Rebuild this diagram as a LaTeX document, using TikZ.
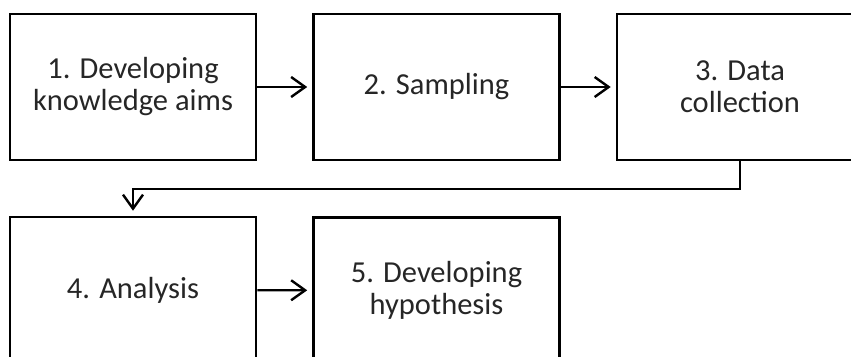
\documentclass[tikz,border=0pt]{standalone}
\usepackage{fontspec}
\setmainfont{Carlito}
\usetikzlibrary{arrows.meta}
\begin{document}
\begin{tikzpicture}[x=1pt,y=-1pt,
  stage/.style={draw=black, line width=2.6pt, minimum width=246pt, minimum height=146pt,
    inner sep=0pt, align=center, text=black!85, font=\fontsize{30.5}{32}\selectfont},
  flow/.style={line width=2.4pt, shorten >=5pt, -{Straight Barb[length=14pt,width=20pt,line width=2.4pt]}}]
\useasboundingbox (0,0) rectangle (851,356);
\clip (0,0) rectangle (851,356);
\node[stage] (s1) at (133,87) {1. Developing\\knowledge aims};
\node[stage] (s2) at (436.5,87) {2. Sampling};
\node[stage] (s3) at (740,87) {3. Data\\collection};
\node[stage] (s4) at (133,290) {4. Analysis};
\node[stage] (s5) at (436.5,290.5) {5. Developing\\hypothesis};
\coordinate (bend) at (740,189);
\draw[flow] (s1) -- (s2);
\draw[flow] (s2) -- (s3);
\draw[flow] (s3.south) -- (bend) -- (s4.north |- bend) -- (s4.north);
\draw[flow] (s4) -- (s5);
\end{tikzpicture}
\end{document}
